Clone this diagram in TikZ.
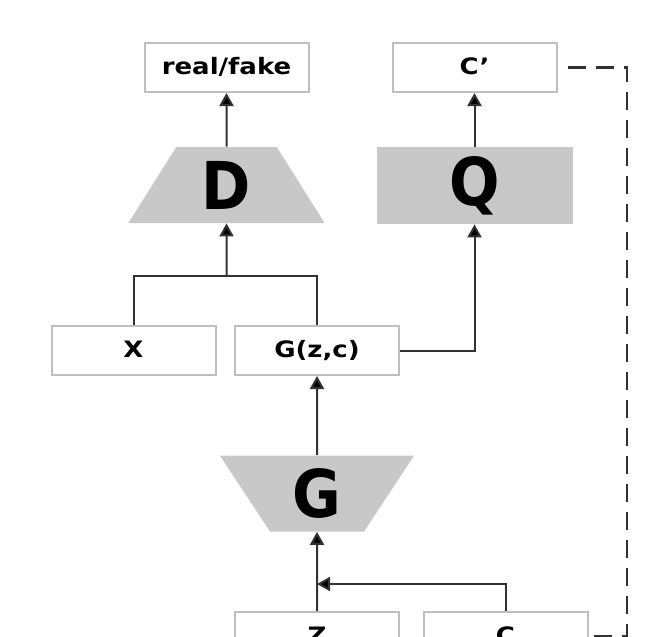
\documentclass[tikz,border=0pt]{standalone}
\usepackage{fontspec}
\setmainfont{DejaVu Sans}
\newfontfamily\labelfont{DejaVu Sans}[FakeStretch=1.15]
\newfontfamily\blockfont{DejaVu Sans}[FakeStretch=0.9]
\usetikzlibrary{shapes.geometric,arrows.meta}
\definecolor{boxgray}{RGB}{191,191,191}
\definecolor{blockgray}{RGB}{200,200,200}
\definecolor{linegray}{RGB}{50,50,50}
\begin{document}
\begin{tikzpicture}[x=0.5pt, y=-0.5pt,
        mybox/.style={draw=boxgray, line width=1pt, fill=white, minimum width=82pt, minimum height=24.5pt,
            inner sep=0pt, text height=0.73em, text depth=0pt, font=\labelfont\fontsize{11.3}{12}\selectfont\bfseries},
        myblock/.style={fill=blockgray, inner sep=0pt, font=\blockfont\fontsize{33}{33}\selectfont\bfseries},
        mytrap/.style={myblock, trapezium, trapezium stretches=true, minimum height=38pt},
        myline/.style={draw=linegray, line width=1pt},
        myarrow/.style={myline, -{Triangle[width=7pt,length=6.5pt,fill=black]}},
        mydash/.style={myline, line width=1.2pt, dash pattern=on 9pt off 5pt, dash phase=9pt}
    ]
    \clip (0,0) rectangle (648,637);
    % white boxes
    \foreach \myname/\mytext/\myx/\myy in {realfake/{real/fake}/226.5/67.5, cprime/C’/474.5/67.5,
            X/X/133.5/350.5, Gzc/{G(z,c)}/317/350.5, Z/Z/317/636.5, C/C/505.5/636.5}
        \node [mybox] (\myname) at (\myx,\myy) {\mytext};
    % networks
    \node [mytrap, minimum width=98.5pt, trapezium angle=64] (D) at (226.5,185) {D};
    \node [myblock, minimum width=98pt, minimum height=38.5pt] (Q) at (474.5,185.5) {Q};
    \node [mytrap, minimum width=97.5pt, trapezium angle=62.5, shape border rotate=180] (G) at (317,493.5) {G};
    % connectors
    \coordinate (merge) at (226.5,276);
    \coordinate (cjoin) at (317,584);
    \coordinate (dashcorner) at (627,636.5);
    \draw [myarrow] (D.north) -- (realfake.south);
    \draw [myarrow] (Q.north) -- (cprime.south);
    \draw [myline] (X.north) |- (merge) -| (Gzc.north);
    \draw [myarrow] (merge) -- (D.south);
    \draw [myarrow] (Gzc.east) -| (Q.south);
    \draw [myarrow] (G) -- (Gzc);
    \draw [myarrow] (Z) -- (G);
    \draw [myarrow] (C.north) |- (cjoin);
    \draw [mydash] (cprime.east) -| (dashcorner) -- (C.east);
\end{tikzpicture}
\end{document}
